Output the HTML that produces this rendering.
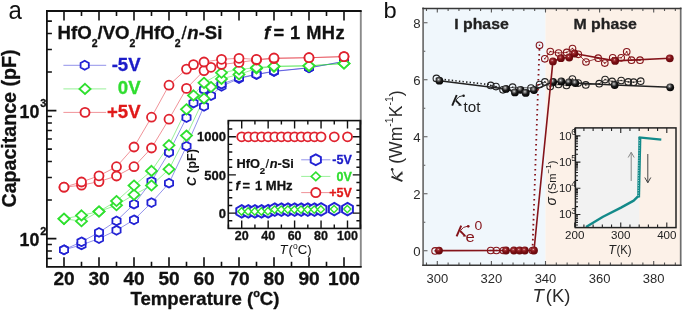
<!DOCTYPE html>
<html><head><meta charset="utf-8"><title>figure</title>
<style>html,body{margin:0;padding:0;background:#fff;}body{width:685px;height:311px;position:relative;overflow:hidden;font-family:"Liberation Sans", sans-serif;}</style>
</head><body>
<div style="position:absolute;left:0;top:0;width:685px;height:311px;will-change:transform">
<svg width="685" height="311" viewBox="0 0 685 311" style="position:absolute;left:0;top:0">
<rect x="0" y="0" width="685" height="311" fill="#fff"/>
<polyline points="64.00,249.80 81.50,244.90 99.00,238.60 116.50,230.30 134.00,219.80 151.50,202.60 169.00,183.20 186.50,146.20 204.00,106.30 211.00,95.70 221.50,86.30 239.00,78.50 256.50,74.50 274.00,71.50 309.00,67.80 344.00,61.50" fill="none" stroke="#2222d4" stroke-width="0.9" stroke-opacity="0.55"/>
<polyline points="64.00,249.80 81.50,241.80 99.00,232.40 116.50,220.90 134.00,204.20 151.50,181.30 169.00,152.50 186.50,117.60 193.50,103.00 204.00,89.50 221.50,84.20 239.00,77.80 256.50,74.30 274.00,71.20 309.00,67.80 344.00,61.50" fill="none" stroke="#2222d4" stroke-width="0.9" stroke-opacity="0.55"/>
<polyline points="64.00,218.80 81.50,221.20 99.00,211.50 116.50,205.20 134.00,194.70 151.50,185.50 169.00,169.20 186.50,135.60 204.00,98.40 211.00,87.00 221.50,78.90 239.00,74.40 256.50,68.50 274.00,66.60 309.00,65.80 344.00,63.50" fill="none" stroke="#2fe02f" stroke-width="0.9" stroke-opacity="0.55"/>
<polyline points="64.00,218.80 81.50,215.40 99.00,211.50 116.50,201.00 134.00,185.50 151.50,170.90 169.00,145.20 186.50,109.30 193.50,95.40 204.00,82.80 221.50,72.70 239.00,69.50 256.50,67.60 274.00,66.20 309.00,65.80 344.00,63.50" fill="none" stroke="#2fe02f" stroke-width="0.9" stroke-opacity="0.55"/>
<polyline points="64.00,187.20 81.50,185.20 99.00,181.60 116.50,176.00 134.00,166.70 151.50,148.00 169.00,119.20 186.50,88.40 204.00,70.60 211.00,67.30 221.50,64.50 239.00,62.40 256.50,60.00 274.00,58.60 309.00,57.70 344.00,56.60" fill="none" stroke="#e0222e" stroke-width="0.9" stroke-opacity="0.55"/>
<polyline points="64.00,187.20 81.50,182.00 99.00,175.80 116.50,166.70 134.00,147.00 151.50,117.20 169.00,85.20 186.50,69.10 193.50,64.60 204.00,62.00 221.50,59.30 239.00,58.30 256.50,59.40 274.00,58.00 309.00,57.70 344.00,56.60" fill="none" stroke="#e0222e" stroke-width="0.9" stroke-opacity="0.55"/>
<path d="M64.00 245.40 L68.10 247.60 L68.10 252.00 L64.00 254.20 L59.90 252.00 L59.90 247.60 Z" fill="#fff" stroke="#2222d4" stroke-width="1.80"/>
<path d="M81.50 240.50 L85.60 242.70 L85.60 247.10 L81.50 249.30 L77.40 247.10 L77.40 242.70 Z" fill="#fff" stroke="#2222d4" stroke-width="1.80"/>
<path d="M99.00 234.20 L103.10 236.40 L103.10 240.80 L99.00 243.00 L94.90 240.80 L94.90 236.40 Z" fill="#fff" stroke="#2222d4" stroke-width="1.80"/>
<path d="M116.50 225.90 L120.60 228.10 L120.60 232.50 L116.50 234.70 L112.40 232.50 L112.40 228.10 Z" fill="#fff" stroke="#2222d4" stroke-width="1.80"/>
<path d="M134.00 215.40 L138.10 217.60 L138.10 222.00 L134.00 224.20 L129.90 222.00 L129.90 217.60 Z" fill="#fff" stroke="#2222d4" stroke-width="1.80"/>
<path d="M151.50 198.20 L155.60 200.40 L155.60 204.80 L151.50 207.00 L147.40 204.80 L147.40 200.40 Z" fill="#fff" stroke="#2222d4" stroke-width="1.80"/>
<path d="M169.00 178.80 L173.10 181.00 L173.10 185.40 L169.00 187.60 L164.90 185.40 L164.90 181.00 Z" fill="#fff" stroke="#2222d4" stroke-width="1.80"/>
<path d="M186.50 141.80 L190.60 144.00 L190.60 148.40 L186.50 150.60 L182.40 148.40 L182.40 144.00 Z" fill="#fff" stroke="#2222d4" stroke-width="1.80"/>
<path d="M204.00 101.90 L208.10 104.10 L208.10 108.50 L204.00 110.70 L199.90 108.50 L199.90 104.10 Z" fill="#fff" stroke="#2222d4" stroke-width="1.80"/>
<path d="M211.00 91.30 L215.10 93.50 L215.10 97.90 L211.00 100.10 L206.90 97.90 L206.90 93.50 Z" fill="#fff" stroke="#2222d4" stroke-width="1.80"/>
<path d="M221.50 81.90 L225.60 84.10 L225.60 88.50 L221.50 90.70 L217.40 88.50 L217.40 84.10 Z" fill="#fff" stroke="#2222d4" stroke-width="1.80"/>
<path d="M239.00 74.10 L243.10 76.30 L243.10 80.70 L239.00 82.90 L234.90 80.70 L234.90 76.30 Z" fill="#fff" stroke="#2222d4" stroke-width="1.80"/>
<path d="M256.50 70.10 L260.60 72.30 L260.60 76.70 L256.50 78.90 L252.40 76.70 L252.40 72.30 Z" fill="#fff" stroke="#2222d4" stroke-width="1.80"/>
<path d="M274.00 67.10 L278.10 69.30 L278.10 73.70 L274.00 75.90 L269.90 73.70 L269.90 69.30 Z" fill="#fff" stroke="#2222d4" stroke-width="1.80"/>
<path d="M309.00 63.40 L313.10 65.60 L313.10 70.00 L309.00 72.20 L304.90 70.00 L304.90 65.60 Z" fill="#fff" stroke="#2222d4" stroke-width="1.80"/>
<path d="M344.00 57.10 L348.10 59.30 L348.10 63.70 L344.00 65.90 L339.90 63.70 L339.90 59.30 Z" fill="#fff" stroke="#2222d4" stroke-width="1.80"/>
<path d="M64.00 245.40 L68.10 247.60 L68.10 252.00 L64.00 254.20 L59.90 252.00 L59.90 247.60 Z" fill="#fff" stroke="#2222d4" stroke-width="1.80"/>
<path d="M81.50 237.40 L85.60 239.60 L85.60 244.00 L81.50 246.20 L77.40 244.00 L77.40 239.60 Z" fill="#fff" stroke="#2222d4" stroke-width="1.80"/>
<path d="M99.00 228.00 L103.10 230.20 L103.10 234.60 L99.00 236.80 L94.90 234.60 L94.90 230.20 Z" fill="#fff" stroke="#2222d4" stroke-width="1.80"/>
<path d="M116.50 216.50 L120.60 218.70 L120.60 223.10 L116.50 225.30 L112.40 223.10 L112.40 218.70 Z" fill="#fff" stroke="#2222d4" stroke-width="1.80"/>
<path d="M134.00 199.80 L138.10 202.00 L138.10 206.40 L134.00 208.60 L129.90 206.40 L129.90 202.00 Z" fill="#fff" stroke="#2222d4" stroke-width="1.80"/>
<path d="M151.50 176.90 L155.60 179.10 L155.60 183.50 L151.50 185.70 L147.40 183.50 L147.40 179.10 Z" fill="#fff" stroke="#2222d4" stroke-width="1.80"/>
<path d="M169.00 148.10 L173.10 150.30 L173.10 154.70 L169.00 156.90 L164.90 154.70 L164.90 150.30 Z" fill="#fff" stroke="#2222d4" stroke-width="1.80"/>
<path d="M186.50 113.20 L190.60 115.40 L190.60 119.80 L186.50 122.00 L182.40 119.80 L182.40 115.40 Z" fill="#fff" stroke="#2222d4" stroke-width="1.80"/>
<path d="M193.50 98.60 L197.60 100.80 L197.60 105.20 L193.50 107.40 L189.40 105.20 L189.40 100.80 Z" fill="#fff" stroke="#2222d4" stroke-width="1.80"/>
<path d="M204.00 85.10 L208.10 87.30 L208.10 91.70 L204.00 93.90 L199.90 91.70 L199.90 87.30 Z" fill="#fff" stroke="#2222d4" stroke-width="1.80"/>
<path d="M221.50 79.80 L225.60 82.00 L225.60 86.40 L221.50 88.60 L217.40 86.40 L217.40 82.00 Z" fill="#fff" stroke="#2222d4" stroke-width="1.80"/>
<path d="M239.00 73.40 L243.10 75.60 L243.10 80.00 L239.00 82.20 L234.90 80.00 L234.90 75.60 Z" fill="#fff" stroke="#2222d4" stroke-width="1.80"/>
<path d="M256.50 69.90 L260.60 72.10 L260.60 76.50 L256.50 78.70 L252.40 76.50 L252.40 72.10 Z" fill="#fff" stroke="#2222d4" stroke-width="1.80"/>
<path d="M274.00 66.80 L278.10 69.00 L278.10 73.40 L274.00 75.60 L269.90 73.40 L269.90 69.00 Z" fill="#fff" stroke="#2222d4" stroke-width="1.80"/>
<path d="M309.00 63.40 L313.10 65.60 L313.10 70.00 L309.00 72.20 L304.90 70.00 L304.90 65.60 Z" fill="#fff" stroke="#2222d4" stroke-width="1.80"/>
<path d="M344.00 57.10 L348.10 59.30 L348.10 63.70 L344.00 65.90 L339.90 63.70 L339.90 59.30 Z" fill="#fff" stroke="#2222d4" stroke-width="1.80"/>
<path d="M64.00 213.70 L69.50 218.80 L64.00 223.90 L58.50 218.80 Z" fill="#fff" stroke="#2fe02f" stroke-width="1.80"/>
<path d="M81.50 216.10 L87.00 221.20 L81.50 226.30 L76.00 221.20 Z" fill="#fff" stroke="#2fe02f" stroke-width="1.80"/>
<path d="M99.00 206.40 L104.50 211.50 L99.00 216.60 L93.50 211.50 Z" fill="#fff" stroke="#2fe02f" stroke-width="1.80"/>
<path d="M116.50 200.10 L122.00 205.20 L116.50 210.30 L111.00 205.20 Z" fill="#fff" stroke="#2fe02f" stroke-width="1.80"/>
<path d="M134.00 189.60 L139.50 194.70 L134.00 199.80 L128.50 194.70 Z" fill="#fff" stroke="#2fe02f" stroke-width="1.80"/>
<path d="M151.50 180.40 L157.00 185.50 L151.50 190.60 L146.00 185.50 Z" fill="#fff" stroke="#2fe02f" stroke-width="1.80"/>
<path d="M169.00 164.10 L174.50 169.20 L169.00 174.30 L163.50 169.20 Z" fill="#fff" stroke="#2fe02f" stroke-width="1.80"/>
<path d="M186.50 130.50 L192.00 135.60 L186.50 140.70 L181.00 135.60 Z" fill="#fff" stroke="#2fe02f" stroke-width="1.80"/>
<path d="M204.00 93.30 L209.50 98.40 L204.00 103.50 L198.50 98.40 Z" fill="#fff" stroke="#2fe02f" stroke-width="1.80"/>
<path d="M211.00 81.90 L216.50 87.00 L211.00 92.10 L205.50 87.00 Z" fill="#fff" stroke="#2fe02f" stroke-width="1.80"/>
<path d="M221.50 73.80 L227.00 78.90 L221.50 84.00 L216.00 78.90 Z" fill="#fff" stroke="#2fe02f" stroke-width="1.80"/>
<path d="M239.00 69.30 L244.50 74.40 L239.00 79.50 L233.50 74.40 Z" fill="#fff" stroke="#2fe02f" stroke-width="1.80"/>
<path d="M256.50 63.40 L262.00 68.50 L256.50 73.60 L251.00 68.50 Z" fill="#fff" stroke="#2fe02f" stroke-width="1.80"/>
<path d="M274.00 61.50 L279.50 66.60 L274.00 71.70 L268.50 66.60 Z" fill="#fff" stroke="#2fe02f" stroke-width="1.80"/>
<path d="M309.00 60.70 L314.50 65.80 L309.00 70.90 L303.50 65.80 Z" fill="#fff" stroke="#2fe02f" stroke-width="1.80"/>
<path d="M344.00 58.40 L349.50 63.50 L344.00 68.60 L338.50 63.50 Z" fill="#fff" stroke="#2fe02f" stroke-width="1.80"/>
<path d="M64.00 213.70 L69.50 218.80 L64.00 223.90 L58.50 218.80 Z" fill="#fff" stroke="#2fe02f" stroke-width="1.80"/>
<path d="M81.50 210.30 L87.00 215.40 L81.50 220.50 L76.00 215.40 Z" fill="#fff" stroke="#2fe02f" stroke-width="1.80"/>
<path d="M99.00 206.40 L104.50 211.50 L99.00 216.60 L93.50 211.50 Z" fill="#fff" stroke="#2fe02f" stroke-width="1.80"/>
<path d="M116.50 195.90 L122.00 201.00 L116.50 206.10 L111.00 201.00 Z" fill="#fff" stroke="#2fe02f" stroke-width="1.80"/>
<path d="M134.00 180.40 L139.50 185.50 L134.00 190.60 L128.50 185.50 Z" fill="#fff" stroke="#2fe02f" stroke-width="1.80"/>
<path d="M151.50 165.80 L157.00 170.90 L151.50 176.00 L146.00 170.90 Z" fill="#fff" stroke="#2fe02f" stroke-width="1.80"/>
<path d="M169.00 140.10 L174.50 145.20 L169.00 150.30 L163.50 145.20 Z" fill="#fff" stroke="#2fe02f" stroke-width="1.80"/>
<path d="M186.50 104.20 L192.00 109.30 L186.50 114.40 L181.00 109.30 Z" fill="#fff" stroke="#2fe02f" stroke-width="1.80"/>
<path d="M193.50 90.30 L199.00 95.40 L193.50 100.50 L188.00 95.40 Z" fill="#fff" stroke="#2fe02f" stroke-width="1.80"/>
<path d="M204.00 77.70 L209.50 82.80 L204.00 87.90 L198.50 82.80 Z" fill="#fff" stroke="#2fe02f" stroke-width="1.80"/>
<path d="M221.50 67.60 L227.00 72.70 L221.50 77.80 L216.00 72.70 Z" fill="#fff" stroke="#2fe02f" stroke-width="1.80"/>
<path d="M239.00 64.40 L244.50 69.50 L239.00 74.60 L233.50 69.50 Z" fill="#fff" stroke="#2fe02f" stroke-width="1.80"/>
<path d="M256.50 62.50 L262.00 67.60 L256.50 72.70 L251.00 67.60 Z" fill="#fff" stroke="#2fe02f" stroke-width="1.80"/>
<path d="M274.00 61.10 L279.50 66.20 L274.00 71.30 L268.50 66.20 Z" fill="#fff" stroke="#2fe02f" stroke-width="1.80"/>
<path d="M309.00 60.70 L314.50 65.80 L309.00 70.90 L303.50 65.80 Z" fill="#fff" stroke="#2fe02f" stroke-width="1.80"/>
<path d="M344.00 58.40 L349.50 63.50 L344.00 68.60 L338.50 63.50 Z" fill="#fff" stroke="#2fe02f" stroke-width="1.80"/>
<circle cx="64.00" cy="187.20" r="4.50" fill="#fff" stroke="#e0222e" stroke-width="1.80"/>
<circle cx="81.50" cy="185.20" r="4.50" fill="#fff" stroke="#e0222e" stroke-width="1.80"/>
<circle cx="99.00" cy="181.60" r="4.50" fill="#fff" stroke="#e0222e" stroke-width="1.80"/>
<circle cx="116.50" cy="176.00" r="4.50" fill="#fff" stroke="#e0222e" stroke-width="1.80"/>
<circle cx="134.00" cy="166.70" r="4.50" fill="#fff" stroke="#e0222e" stroke-width="1.80"/>
<circle cx="151.50" cy="148.00" r="4.50" fill="#fff" stroke="#e0222e" stroke-width="1.80"/>
<circle cx="169.00" cy="119.20" r="4.50" fill="#fff" stroke="#e0222e" stroke-width="1.80"/>
<circle cx="186.50" cy="88.40" r="4.50" fill="#fff" stroke="#e0222e" stroke-width="1.80"/>
<circle cx="204.00" cy="70.60" r="4.50" fill="#fff" stroke="#e0222e" stroke-width="1.80"/>
<circle cx="211.00" cy="67.30" r="4.50" fill="#fff" stroke="#e0222e" stroke-width="1.80"/>
<circle cx="221.50" cy="64.50" r="4.50" fill="#fff" stroke="#e0222e" stroke-width="1.80"/>
<circle cx="239.00" cy="62.40" r="4.50" fill="#fff" stroke="#e0222e" stroke-width="1.80"/>
<circle cx="256.50" cy="60.00" r="4.50" fill="#fff" stroke="#e0222e" stroke-width="1.80"/>
<circle cx="274.00" cy="58.60" r="4.50" fill="#fff" stroke="#e0222e" stroke-width="1.80"/>
<circle cx="309.00" cy="57.70" r="4.50" fill="#fff" stroke="#e0222e" stroke-width="1.80"/>
<circle cx="344.00" cy="56.60" r="4.50" fill="#fff" stroke="#e0222e" stroke-width="1.80"/>
<circle cx="64.00" cy="187.20" r="4.50" fill="#fff" stroke="#e0222e" stroke-width="1.80"/>
<circle cx="81.50" cy="182.00" r="4.50" fill="#fff" stroke="#e0222e" stroke-width="1.80"/>
<circle cx="99.00" cy="175.80" r="4.50" fill="#fff" stroke="#e0222e" stroke-width="1.80"/>
<circle cx="116.50" cy="166.70" r="4.50" fill="#fff" stroke="#e0222e" stroke-width="1.80"/>
<circle cx="134.00" cy="147.00" r="4.50" fill="#fff" stroke="#e0222e" stroke-width="1.80"/>
<circle cx="151.50" cy="117.20" r="4.50" fill="#fff" stroke="#e0222e" stroke-width="1.80"/>
<circle cx="169.00" cy="85.20" r="4.50" fill="#fff" stroke="#e0222e" stroke-width="1.80"/>
<circle cx="186.50" cy="69.10" r="4.50" fill="#fff" stroke="#e0222e" stroke-width="1.80"/>
<circle cx="193.50" cy="64.60" r="4.50" fill="#fff" stroke="#e0222e" stroke-width="1.80"/>
<circle cx="204.00" cy="62.00" r="4.50" fill="#fff" stroke="#e0222e" stroke-width="1.80"/>
<circle cx="221.50" cy="59.30" r="4.50" fill="#fff" stroke="#e0222e" stroke-width="1.80"/>
<circle cx="239.00" cy="58.30" r="4.50" fill="#fff" stroke="#e0222e" stroke-width="1.80"/>
<circle cx="256.50" cy="59.40" r="4.50" fill="#fff" stroke="#e0222e" stroke-width="1.80"/>
<circle cx="274.00" cy="58.00" r="4.50" fill="#fff" stroke="#e0222e" stroke-width="1.80"/>
<circle cx="309.00" cy="57.70" r="4.50" fill="#fff" stroke="#e0222e" stroke-width="1.80"/>
<circle cx="344.00" cy="56.60" r="4.50" fill="#fff" stroke="#e0222e" stroke-width="1.80"/>
<line x1="63.4" y1="65.3" x2="106.2" y2="65.3" stroke="#2222d4" stroke-width="0.9" stroke-opacity="0.55"/>
<path d="M84.70 60.80 L88.80 63.05 L88.80 67.55 L84.70 69.80 L80.60 67.55 L80.60 63.05 Z" fill="#fff" stroke="#2222d4" stroke-width="1.8"/>
<text x="140.60" y="70.80" font-family='"Liberation Sans", sans-serif' font-size="18.60" fill="#1c1cc8" font-weight="bold" stroke="#1c1cc8" stroke-width="0.30" stroke-linejoin="round" text-anchor="end">-5V</text>
<line x1="63.4" y1="88.9" x2="106.2" y2="88.9" stroke="#2fe02f" stroke-width="0.9" stroke-opacity="0.55"/>
<path d="M85.00 83.90 L90.50 88.90 L85.00 93.90 L79.50 88.90 Z" fill="#fff" stroke="#2fe02f" stroke-width="1.9"/>
<text x="140.60" y="94.40" font-family='"Liberation Sans", sans-serif' font-size="18.60" fill="#30dd30" font-weight="bold" stroke="#30dd30" stroke-width="0.30" stroke-linejoin="round" text-anchor="end">0V</text>
<line x1="63.4" y1="112.4" x2="106.2" y2="112.4" stroke="#e0222e" stroke-width="0.9" stroke-opacity="0.55"/>
<circle cx="85.0" cy="112.4" r="4.5" fill="#fff" stroke="#e0222e" stroke-width="1.9"/>
<text x="140.60" y="117.90" font-family='"Liberation Sans", sans-serif' font-size="18.60" fill="#e01a1a" font-weight="bold" stroke="#e01a1a" stroke-width="0.30" stroke-linejoin="round" text-anchor="end">+5V</text>
<text x="57.6" y="39.0" font-family='"Liberation Sans", sans-serif' font-weight="bold" font-size="18.6" fill="#111" stroke="#111" stroke-width="0.3" stroke-linejoin="round">HfO<tspan font-size="10.5" dy="7.6">2</tspan><tspan dy="-7.6">/VO</tspan><tspan font-size="10.5" dy="7.6">2</tspan><tspan dy="-7.6">/HfO</tspan><tspan font-size="10.5" dy="7.6">2</tspan><tspan dy="-7.6" font-weight="normal" dx="0.9">/</tspan><tspan font-style="italic" dx="0.7">n</tspan>-Si</text>
<text x="264.00" y="38.60" font-family='"Liberation Sans", sans-serif' font-size="18.30" fill="#111" font-weight="bold" stroke="#111" stroke-width="0.30" stroke-linejoin="round" font-style="italic">f</text>
<text x="273.60" y="38.60" font-family='"Liberation Sans", sans-serif' font-size="18.30" fill="#111" font-weight="bold" stroke="#111" stroke-width="0.30" stroke-linejoin="round">=</text>
<text x="290.00" y="38.60" font-family='"Liberation Sans", sans-serif' font-size="18.30" fill="#111" font-weight="bold" stroke="#111" stroke-width="0.30" stroke-linejoin="round" textLength="54.6" lengthAdjust="spacing">1 MHz</text>
<rect x="228.3" y="120.6" width="132.1" height="107.8" fill="#fff"/>
<path d="M241.70 205.10 L247.10 208.25 L247.10 214.55 L241.70 217.70 L236.30 214.55 L236.30 208.25 Z" fill="#fff" stroke="#2222d4" stroke-width="2.0"/>
<path d="M248.31 205.10 L253.71 208.25 L253.71 214.55 L248.31 217.70 L242.91 214.55 L242.91 208.25 Z" fill="#fff" stroke="#2222d4" stroke-width="2.0"/>
<path d="M254.92 205.10 L260.32 208.25 L260.32 214.55 L254.92 217.70 L249.52 214.55 L249.52 208.25 Z" fill="#fff" stroke="#2222d4" stroke-width="2.0"/>
<path d="M261.54 205.10 L266.94 208.25 L266.94 214.55 L261.54 217.70 L256.14 214.55 L256.14 208.25 Z" fill="#fff" stroke="#2222d4" stroke-width="2.0"/>
<path d="M268.15 204.90 L273.55 208.05 L273.55 214.35 L268.15 217.50 L262.75 214.35 L262.75 208.05 Z" fill="#fff" stroke="#2222d4" stroke-width="2.0"/>
<path d="M274.76 203.30 L280.16 206.45 L280.16 212.75 L274.76 215.90 L269.36 212.75 L269.36 206.45 Z" fill="#fff" stroke="#2222d4" stroke-width="2.0"/>
<path d="M281.38 203.30 L286.77 206.45 L286.77 212.75 L281.38 215.90 L275.98 212.75 L275.98 206.45 Z" fill="#fff" stroke="#2222d4" stroke-width="2.0"/>
<path d="M287.99 203.30 L293.39 206.45 L293.39 212.75 L287.99 215.90 L282.59 212.75 L282.59 206.45 Z" fill="#fff" stroke="#2222d4" stroke-width="2.0"/>
<path d="M294.60 203.30 L300.00 206.45 L300.00 212.75 L294.60 215.90 L289.20 212.75 L289.20 206.45 Z" fill="#fff" stroke="#2222d4" stroke-width="2.0"/>
<path d="M301.21 203.30 L306.61 206.45 L306.61 212.75 L301.21 215.90 L295.81 212.75 L295.81 206.45 Z" fill="#fff" stroke="#2222d4" stroke-width="2.0"/>
<path d="M307.82 203.30 L313.22 206.45 L313.22 212.75 L307.82 215.90 L302.43 212.75 L302.43 206.45 Z" fill="#fff" stroke="#2222d4" stroke-width="2.0"/>
<path d="M314.44 203.30 L319.84 206.45 L319.84 212.75 L314.44 215.90 L309.04 212.75 L309.04 206.45 Z" fill="#fff" stroke="#2222d4" stroke-width="2.0"/>
<path d="M321.05 203.10 L326.45 206.25 L326.45 212.55 L321.05 215.70 L315.65 212.55 L315.65 206.25 Z" fill="#fff" stroke="#2222d4" stroke-width="2.0"/>
<path d="M334.27 202.80 L339.67 205.95 L339.67 212.25 L334.27 215.40 L328.88 212.25 L328.88 205.95 Z" fill="#fff" stroke="#2222d4" stroke-width="2.0"/>
<path d="M347.50 202.80 L352.90 205.95 L352.90 212.25 L347.50 215.40 L342.10 212.25 L342.10 205.95 Z" fill="#fff" stroke="#2222d4" stroke-width="2.0"/>
<path d="M241.50 207.70 L245.10 211.40 L241.50 215.10 L237.90 211.40 Z" fill="#fff" stroke="#2fe02f" stroke-width="1.4"/>
<path d="M248.11 207.70 L251.71 211.40 L248.11 215.10 L244.51 211.40 Z" fill="#fff" stroke="#2fe02f" stroke-width="1.4"/>
<path d="M254.72 207.70 L258.32 211.40 L254.72 215.10 L251.12 211.40 Z" fill="#fff" stroke="#2fe02f" stroke-width="1.4"/>
<path d="M261.34 207.70 L264.94 211.40 L261.34 215.10 L257.74 211.40 Z" fill="#fff" stroke="#2fe02f" stroke-width="1.4"/>
<path d="M267.95 207.50 L271.55 211.20 L267.95 214.90 L264.35 211.20 Z" fill="#fff" stroke="#2fe02f" stroke-width="1.4"/>
<path d="M274.56 205.90 L278.16 209.60 L274.56 213.30 L270.96 209.60 Z" fill="#fff" stroke="#2fe02f" stroke-width="1.4"/>
<path d="M281.18 205.90 L284.78 209.60 L281.18 213.30 L277.57 209.60 Z" fill="#fff" stroke="#2fe02f" stroke-width="1.4"/>
<path d="M287.79 205.90 L291.39 209.60 L287.79 213.30 L284.19 209.60 Z" fill="#fff" stroke="#2fe02f" stroke-width="1.4"/>
<path d="M294.40 205.90 L298.00 209.60 L294.40 213.30 L290.80 209.60 Z" fill="#fff" stroke="#2fe02f" stroke-width="1.4"/>
<path d="M301.01 205.90 L304.61 209.60 L301.01 213.30 L297.41 209.60 Z" fill="#fff" stroke="#2fe02f" stroke-width="1.4"/>
<path d="M307.62 205.90 L311.23 209.60 L307.62 213.30 L304.02 209.60 Z" fill="#fff" stroke="#2fe02f" stroke-width="1.4"/>
<path d="M314.24 205.90 L317.84 209.60 L314.24 213.30 L310.64 209.60 Z" fill="#fff" stroke="#2fe02f" stroke-width="1.4"/>
<path d="M320.85 205.70 L324.45 209.40 L320.85 213.10 L317.25 209.40 Z" fill="#fff" stroke="#2fe02f" stroke-width="1.4"/>
<path d="M334.07 205.40 L337.68 209.10 L334.07 212.80 L330.47 209.10 Z" fill="#fff" stroke="#2fe02f" stroke-width="1.4"/>
<path d="M347.30 205.40 L350.90 209.10 L347.30 212.80 L343.70 209.10 Z" fill="#fff" stroke="#2fe02f" stroke-width="1.4"/>
<circle cx="241.70" cy="136.8" r="4.5" fill="#fff" stroke="#e0222e" stroke-width="1.8"/>
<circle cx="248.31" cy="136.8" r="4.5" fill="#fff" stroke="#e0222e" stroke-width="1.8"/>
<circle cx="254.92" cy="136.8" r="4.5" fill="#fff" stroke="#e0222e" stroke-width="1.8"/>
<circle cx="261.54" cy="136.8" r="4.5" fill="#fff" stroke="#e0222e" stroke-width="1.8"/>
<circle cx="268.15" cy="136.8" r="4.5" fill="#fff" stroke="#e0222e" stroke-width="1.8"/>
<circle cx="274.76" cy="136.8" r="4.5" fill="#fff" stroke="#e0222e" stroke-width="1.8"/>
<circle cx="281.38" cy="136.8" r="4.5" fill="#fff" stroke="#e0222e" stroke-width="1.8"/>
<circle cx="287.99" cy="136.8" r="4.5" fill="#fff" stroke="#e0222e" stroke-width="1.8"/>
<circle cx="294.60" cy="136.8" r="4.5" fill="#fff" stroke="#e0222e" stroke-width="1.8"/>
<circle cx="301.21" cy="136.8" r="4.5" fill="#fff" stroke="#e0222e" stroke-width="1.8"/>
<circle cx="307.82" cy="136.8" r="4.5" fill="#fff" stroke="#e0222e" stroke-width="1.8"/>
<circle cx="314.44" cy="136.8" r="4.5" fill="#fff" stroke="#e0222e" stroke-width="1.8"/>
<circle cx="321.05" cy="136.8" r="4.5" fill="#fff" stroke="#e0222e" stroke-width="1.8"/>
<circle cx="334.27" cy="136.8" r="4.5" fill="#fff" stroke="#e0222e" stroke-width="1.8"/>
<circle cx="347.50" cy="136.8" r="4.5" fill="#fff" stroke="#e0222e" stroke-width="1.8"/>
<line x1="301.2" y1="159.8" x2="330.4" y2="159.8" stroke="#2222d4" stroke-width="0.9" stroke-opacity="0.55"/>
<path d="M315.80 154.40 L320.90 157.10 L320.90 162.50 L315.80 165.20 L310.70 162.50 L310.70 157.10 Z" fill="#fff" stroke="#2222d4" stroke-width="1.9"/>
<text x="351.80" y="164.20" font-family='"Liberation Sans", sans-serif' font-size="12.50" fill="#1c1cc8" font-weight="bold" stroke="#1c1cc8" stroke-width="0.30" stroke-linejoin="round" text-anchor="end">-5V</text>
<line x1="301.2" y1="176.4" x2="330.4" y2="176.4" stroke="#2fe02f" stroke-width="0.9" stroke-opacity="0.55"/>
<path d="M315.80 172.10 L320.40 176.40 L315.80 180.70 L311.20 176.40 Z" fill="#fff" stroke="#2fe02f" stroke-width="1.6"/>
<text x="351.80" y="180.80" font-family='"Liberation Sans", sans-serif' font-size="12.50" fill="#30dd30" font-weight="bold" stroke="#30dd30" stroke-width="0.30" stroke-linejoin="round" text-anchor="end">0V</text>
<line x1="301.2" y1="192.6" x2="330.4" y2="192.6" stroke="#e0222e" stroke-width="0.9" stroke-opacity="0.55"/>
<circle cx="315.8" cy="192.6" r="4.6" fill="#fff" stroke="#e0222e" stroke-width="1.8"/>
<text x="351.80" y="197.00" font-family='"Liberation Sans", sans-serif' font-size="12.50" fill="#e01a1a" font-weight="bold" stroke="#e01a1a" stroke-width="0.30" stroke-linejoin="round" text-anchor="end">+5V</text>
<text x="236.4" y="168.3" font-family='"Liberation Sans", sans-serif' font-weight="bold" font-size="12.8" fill="#111" stroke="#111" stroke-width="0.2" stroke-linejoin="round">HfO<tspan font-size="9.6" dy="5.4">2</tspan><tspan dy="-5.4" font-weight="normal" dx="0.3">/</tspan><tspan font-style="italic" dx="0.6">n</tspan>-Si</text>
<text x="235.40" y="189.60" font-family='"Liberation Sans", sans-serif' font-size="12.80" fill="#111" font-weight="bold" stroke="#111" stroke-width="0.30" stroke-linejoin="round" font-style="italic">f</text>
<text x="242.60" y="189.60" font-family='"Liberation Sans", sans-serif' font-size="12.80" fill="#111" font-weight="bold" stroke="#111" stroke-width="0.30" stroke-linejoin="round">=</text>
<text x="255.00" y="189.60" font-family='"Liberation Sans", sans-serif' font-size="12.80" fill="#111" font-weight="bold" stroke="#111" stroke-width="0.30" stroke-linejoin="round" textLength="37.6" lengthAdjust="spacingAndGlyphs">1 MHz</text>
<path d="M228.3 220.74 h4.0 M360.4 220.74 h-4.0 M228.3 213.10 h7.6 M360.4 213.10 h-7.6 M228.3 205.46 h4.0 M360.4 205.46 h-4.0 M228.3 197.82 h4.0 M360.4 197.82 h-4.0 M228.3 190.18 h4.0 M360.4 190.18 h-4.0 M228.3 182.54 h4.0 M360.4 182.54 h-4.0 M228.3 174.90 h7.6 M360.4 174.90 h-7.6 M228.3 167.26 h4.0 M360.4 167.26 h-4.0 M228.3 159.62 h4.0 M360.4 159.62 h-4.0 M228.3 151.98 h4.0 M360.4 151.98 h-4.0 M228.3 144.34 h4.0 M360.4 144.34 h-4.0 M228.3 136.70 h7.6 M360.4 136.70 h-7.6 M228.3 129.06 h4.0 M360.4 129.06 h-4.0 M228.47 228.4 v-4.0 M228.47 120.6 v4.0 M241.70 228.4 v-7.8 M241.70 120.6 v7.8 M254.92 228.4 v-4.0 M254.92 120.6 v4.0 M268.15 228.4 v-7.8 M268.15 120.6 v7.8 M281.38 228.4 v-4.0 M281.38 120.6 v4.0 M294.60 228.4 v-7.8 M294.60 120.6 v7.8 M307.82 228.4 v-4.0 M307.82 120.6 v4.0 M321.05 228.4 v-7.8 M321.05 120.6 v7.8 M334.27 228.4 v-4.0 M334.27 120.6 v4.0 M347.50 228.4 v-7.8 M347.50 120.6 v7.8 M360.73 228.4 v-4.0 M360.73 120.6 v4.0" stroke="#111" stroke-width="1.4" fill="none"/>
<rect x="228.3" y="120.6" width="132.1" height="107.8" fill="none" stroke="#111" stroke-width="1.6"/>
<text x="226.00" y="217.70" font-family='"Liberation Sans", sans-serif' font-size="13.00" fill="#111" font-weight="bold" stroke="#111" stroke-width="0.30" stroke-linejoin="round" text-anchor="end">0</text>
<text x="226.00" y="179.50" font-family='"Liberation Sans", sans-serif' font-size="13.00" fill="#111" font-weight="bold" stroke="#111" stroke-width="0.30" stroke-linejoin="round" text-anchor="end">500</text>
<text x="226.00" y="141.30" font-family='"Liberation Sans", sans-serif' font-size="13.00" fill="#111" font-weight="bold" stroke="#111" stroke-width="0.30" stroke-linejoin="round" text-anchor="end">1000</text>
<text x="241.70" y="240.20" font-family='"Liberation Sans", sans-serif' font-size="12.50" fill="#111" font-weight="bold" stroke="#111" stroke-width="0.30" stroke-linejoin="round" text-anchor="middle">20</text>
<text x="268.15" y="240.20" font-family='"Liberation Sans", sans-serif' font-size="12.50" fill="#111" font-weight="bold" stroke="#111" stroke-width="0.30" stroke-linejoin="round" text-anchor="middle">40</text>
<text x="294.60" y="240.20" font-family='"Liberation Sans", sans-serif' font-size="12.50" fill="#111" font-weight="bold" stroke="#111" stroke-width="0.30" stroke-linejoin="round" text-anchor="middle">60</text>
<text x="321.05" y="240.20" font-family='"Liberation Sans", sans-serif' font-size="12.50" fill="#111" font-weight="bold" stroke="#111" stroke-width="0.30" stroke-linejoin="round" text-anchor="middle">80</text>
<text x="347.50" y="240.20" font-family='"Liberation Sans", sans-serif' font-size="12.50" fill="#111" font-weight="bold" stroke="#111" stroke-width="0.30" stroke-linejoin="round" text-anchor="middle">100</text>
<text x="279.60" y="254.40" font-family='"Liberation Sans", sans-serif' font-size="13.20" fill="#111" font-style="italic">T</text>
<text x="288.6" y="254.4" font-family='"Liberation Sans", sans-serif' font-size="13.2" fill="#111">(<tspan font-size="8.5" dy="-5.5">o</tspan><tspan dy="5.5">C)</tspan></text>
<text transform="translate(196.4,167.4) rotate(-90)" font-family='"Liberation Sans", sans-serif' font-weight="bold" font-size="12.8" fill="#111" text-anchor="middle"><tspan font-style="italic">C</tspan> (pF)</text>
<path d="M64.00 266.8 v-9.5 M64.00 11.0 v9.5 M81.50 266.8 v-5.0 M81.50 11.0 v5.0 M99.00 266.8 v-9.5 M99.00 11.0 v9.5 M116.50 266.8 v-5.0 M116.50 11.0 v5.0 M134.00 266.8 v-9.5 M134.00 11.0 v9.5 M151.50 266.8 v-5.0 M151.50 11.0 v5.0 M169.00 266.8 v-9.5 M169.00 11.0 v9.5 M186.50 266.8 v-5.0 M186.50 11.0 v5.0 M204.00 266.8 v-9.5 M204.00 11.0 v9.5 M221.50 266.8 v-5.0 M221.50 11.0 v5.0 M239.00 266.8 v-9.5 M239.00 11.0 v9.5 M256.50 266.8 v-5.0 M256.50 11.0 v5.0 M274.00 266.8 v-9.5 M274.00 11.0 v9.5 M291.50 266.8 v-5.0 M291.50 11.0 v5.0 M309.00 266.8 v-9.5 M309.00 11.0 v9.5 M326.50 266.8 v-5.0 M326.50 11.0 v5.0 M344.00 266.8 v-9.5 M344.00 11.0 v9.5 M46.9 258.43 h5.0 M46.9 251.00 h5.0 M46.9 244.46 h5.0 M46.9 238.60 h9.5 M46.9 200.07 h5.0 M46.9 177.53 h5.0 M46.9 161.54 h5.0 M46.9 149.13 h5.0 M46.9 139.00 h5.0 M46.9 130.43 h5.0 M46.9 123.00 h5.0 M46.9 116.46 h5.0 M46.9 110.60 h9.5 M46.9 72.07 h5.0 M46.9 49.53 h5.0 M46.9 33.54 h5.0 M46.9 21.13 h5.0" stroke="#111" stroke-width="1.6" fill="none"/>
<path d="M360.8 11.0 V266.8" stroke="#8a8a8a" stroke-width="1.9" fill="none"/>
<path d="M46.0 11.0 H361.7 M46.0 266.8 H361.7 M46.9 11.0 V266.8" stroke="#111" stroke-width="1.8" fill="none"/>
<path d="M360.4 119.8 V229.2" stroke="#111" stroke-width="1.6" fill="none"/>
<text x="64.00" y="285.00" font-family='"Liberation Sans", sans-serif' font-size="19.10" fill="#111" font-weight="bold" stroke="#111" stroke-width="0.30" stroke-linejoin="round" text-anchor="middle">20</text>
<text x="99.00" y="285.00" font-family='"Liberation Sans", sans-serif' font-size="19.10" fill="#111" font-weight="bold" stroke="#111" stroke-width="0.30" stroke-linejoin="round" text-anchor="middle">30</text>
<text x="134.00" y="285.00" font-family='"Liberation Sans", sans-serif' font-size="19.10" fill="#111" font-weight="bold" stroke="#111" stroke-width="0.30" stroke-linejoin="round" text-anchor="middle">40</text>
<text x="169.00" y="285.00" font-family='"Liberation Sans", sans-serif' font-size="19.10" fill="#111" font-weight="bold" stroke="#111" stroke-width="0.30" stroke-linejoin="round" text-anchor="middle">50</text>
<text x="204.00" y="285.00" font-family='"Liberation Sans", sans-serif' font-size="19.10" fill="#111" font-weight="bold" stroke="#111" stroke-width="0.30" stroke-linejoin="round" text-anchor="middle">60</text>
<text x="239.00" y="285.00" font-family='"Liberation Sans", sans-serif' font-size="19.10" fill="#111" font-weight="bold" stroke="#111" stroke-width="0.30" stroke-linejoin="round" text-anchor="middle">70</text>
<text x="274.00" y="285.00" font-family='"Liberation Sans", sans-serif' font-size="19.10" fill="#111" font-weight="bold" stroke="#111" stroke-width="0.30" stroke-linejoin="round" text-anchor="middle">80</text>
<text x="309.00" y="285.00" font-family='"Liberation Sans", sans-serif' font-size="19.10" fill="#111" font-weight="bold" stroke="#111" stroke-width="0.30" stroke-linejoin="round" text-anchor="middle">90</text>
<text x="344.00" y="285.00" font-family='"Liberation Sans", sans-serif' font-size="19.10" fill="#111" font-weight="bold" stroke="#111" stroke-width="0.30" stroke-linejoin="round" text-anchor="middle">100</text>
<text x="39.40" y="246.00" font-family='"Liberation Sans", sans-serif' font-size="17.80" fill="#111" font-weight="bold" stroke="#111" stroke-width="0.30" stroke-linejoin="round" text-anchor="end">10</text>
<text x="40.20" y="235.30" font-family='"Liberation Sans", sans-serif' font-size="11.00" fill="#111" font-weight="bold" stroke="#111" stroke-width="0.30" stroke-linejoin="round">2</text>
<text x="39.40" y="117.50" font-family='"Liberation Sans", sans-serif' font-size="17.80" fill="#111" font-weight="bold" stroke="#111" stroke-width="0.30" stroke-linejoin="round" text-anchor="end">10</text>
<text x="40.20" y="106.80" font-family='"Liberation Sans", sans-serif' font-size="11.00" fill="#111" font-weight="bold" stroke="#111" stroke-width="0.30" stroke-linejoin="round">3</text>
<text x="205" y="305.0" font-family='"Liberation Sans", sans-serif' font-weight="bold" font-size="18.6" fill="#111" stroke="#111" stroke-width="0.3" stroke-linejoin="round" text-anchor="middle">Temperature (<tspan font-size="11" dy="-8">o</tspan><tspan dy="8">C)</tspan></text>
<text transform="translate(15.80,128.50) rotate(-90)" font-family='"Liberation Sans", sans-serif' font-size="19.60" fill="#111" font-weight="bold" stroke="#111" stroke-width="0.30" stroke-linejoin="round" text-anchor="middle">Capacitance (pF)</text>
<text transform="translate(8.40,18.80) scale(0.930,1)" font-family='"Liberation Sans", sans-serif' font-size="25.80" fill="#111">a</text>
<rect x="423.1" y="8.4" width="122.4" height="256.9" fill="#f0f7fc"/>
<rect x="545.5" y="8.4" width="135.2" height="256.9" fill="#fcf1e8"/>
<defs><radialGradient id="gk" cx="0.4" cy="0.36" r="0.62"><stop offset="0" stop-color="#f0f0f0"/><stop offset="0.18" stop-color="#8a8a8a"/><stop offset="0.55" stop-color="#1c1c1c"/><stop offset="1" stop-color="#050505"/></radialGradient><radialGradient id="gr" cx="0.4" cy="0.36" r="0.62"><stop offset="0" stop-color="#f4dada"/><stop offset="0.18" stop-color="#a8383c"/><stop offset="0.55" stop-color="#7c0f14"/><stop offset="1" stop-color="#66080c"/></radialGradient></defs>
<line x1="441" y1="79.2" x2="490" y2="84.6" stroke="#222" stroke-width="1.6" stroke-dasharray="1.4 2.2"/>
<polyline points="439.4,80.7 505.9,88.9 514.9,92.4 520.5,89.8 525.7,92.9 534.0,90.1 553.1,81.9 561.3,81.4 568.9,82.3 575.3,83.1 614.7,85.0 670.2,87.3" fill="none" stroke="#222" stroke-width="1.5"/>
<polyline points="490.7,85.4 496.0,86.6 503.0,89.8 512.6,87.2 531.0,88.0 539.6,84.5 544.9,81.9 550.2,86.6 558.5,84.5 566.5,85.4 572.4,79.0 578.2,83.1 585.8,84.9 599.2,83.7 605.1,79.6 612.1,81.4 621.2,80.5 628.3,81.9 633.6,82.2 640.7,81.2" fill="none" stroke="#333" stroke-width="0.8"/>
<circle cx="436.4" cy="78.4" r="3.3" fill="none" stroke="#222" stroke-width="1.1"/><circle cx="436.4" cy="78.4" r="0.8" fill="#222"/>
<circle cx="490.7" cy="85.4" r="3.3" fill="none" stroke="#222" stroke-width="1.1"/><circle cx="490.7" cy="85.4" r="0.8" fill="#222"/>
<circle cx="496.0" cy="86.6" r="3.3" fill="none" stroke="#222" stroke-width="1.1"/><circle cx="496.0" cy="86.6" r="0.8" fill="#222"/>
<circle cx="503.0" cy="89.8" r="3.3" fill="none" stroke="#222" stroke-width="1.1"/><circle cx="503.0" cy="89.8" r="0.8" fill="#222"/>
<circle cx="512.6" cy="87.2" r="3.3" fill="none" stroke="#222" stroke-width="1.1"/><circle cx="512.6" cy="87.2" r="0.8" fill="#222"/>
<circle cx="531.0" cy="88.0" r="3.3" fill="none" stroke="#222" stroke-width="1.1"/><circle cx="531.0" cy="88.0" r="0.8" fill="#222"/>
<circle cx="539.6" cy="84.5" r="3.3" fill="none" stroke="#222" stroke-width="1.1"/><circle cx="539.6" cy="84.5" r="0.8" fill="#222"/>
<circle cx="544.9" cy="81.9" r="3.3" fill="none" stroke="#222" stroke-width="1.1"/><circle cx="544.9" cy="81.9" r="0.8" fill="#222"/>
<circle cx="550.2" cy="86.6" r="3.3" fill="none" stroke="#222" stroke-width="1.1"/><circle cx="550.2" cy="86.6" r="0.8" fill="#222"/>
<circle cx="558.5" cy="84.5" r="3.3" fill="none" stroke="#222" stroke-width="1.1"/><circle cx="558.5" cy="84.5" r="0.8" fill="#222"/>
<circle cx="566.5" cy="85.4" r="3.3" fill="none" stroke="#222" stroke-width="1.1"/><circle cx="566.5" cy="85.4" r="0.8" fill="#222"/>
<circle cx="572.4" cy="79.0" r="3.3" fill="none" stroke="#222" stroke-width="1.1"/><circle cx="572.4" cy="79.0" r="0.8" fill="#222"/>
<circle cx="578.2" cy="83.1" r="3.3" fill="none" stroke="#222" stroke-width="1.1"/><circle cx="578.2" cy="83.1" r="0.8" fill="#222"/>
<circle cx="585.8" cy="84.9" r="3.3" fill="none" stroke="#222" stroke-width="1.1"/><circle cx="585.8" cy="84.9" r="0.8" fill="#222"/>
<circle cx="599.2" cy="83.7" r="3.3" fill="none" stroke="#222" stroke-width="1.1"/><circle cx="599.2" cy="83.7" r="0.8" fill="#222"/>
<circle cx="605.1" cy="79.6" r="3.3" fill="none" stroke="#222" stroke-width="1.1"/><circle cx="605.1" cy="79.6" r="0.8" fill="#222"/>
<circle cx="612.1" cy="81.4" r="3.3" fill="none" stroke="#222" stroke-width="1.1"/><circle cx="612.1" cy="81.4" r="0.8" fill="#222"/>
<circle cx="621.2" cy="80.5" r="3.3" fill="none" stroke="#222" stroke-width="1.1"/><circle cx="621.2" cy="80.5" r="0.8" fill="#222"/>
<circle cx="628.3" cy="81.9" r="3.3" fill="none" stroke="#222" stroke-width="1.1"/><circle cx="628.3" cy="81.9" r="0.8" fill="#222"/>
<circle cx="633.6" cy="82.2" r="3.3" fill="none" stroke="#222" stroke-width="1.1"/><circle cx="633.6" cy="82.2" r="0.8" fill="#222"/>
<circle cx="640.7" cy="81.2" r="3.3" fill="none" stroke="#222" stroke-width="1.1"/><circle cx="640.7" cy="81.2" r="0.8" fill="#222"/>
<circle cx="439.4" cy="80.7" r="3.9" fill="url(#gk)"/>
<circle cx="505.9" cy="88.9" r="3.9" fill="url(#gk)"/>
<circle cx="514.9" cy="92.4" r="3.9" fill="url(#gk)"/>
<circle cx="520.5" cy="89.8" r="3.9" fill="url(#gk)"/>
<circle cx="525.7" cy="92.9" r="3.9" fill="url(#gk)"/>
<circle cx="534.0" cy="90.1" r="3.9" fill="url(#gk)"/>
<circle cx="553.1" cy="81.9" r="3.9" fill="url(#gk)"/>
<circle cx="561.3" cy="81.4" r="3.9" fill="url(#gk)"/>
<circle cx="568.9" cy="82.3" r="3.9" fill="url(#gk)"/>
<circle cx="575.3" cy="83.1" r="3.9" fill="url(#gk)"/>
<circle cx="614.7" cy="85.0" r="3.9" fill="url(#gk)"/>
<circle cx="670.2" cy="87.3" r="3.9" fill="url(#gk)"/>
<line x1="539.4" y1="49" x2="532.6" y2="247" stroke="#85141a" stroke-width="1.8" stroke-dasharray="1.6 3.4"/>
<polyline points="439.0,250.6 506.0,250.5 513.9,250.5 519.6,250.5 524.8,250.5 534.0,250.5 552.9,61.4 560.9,58.2 569.2,57.5 574.4,53.5 615.1,60.9 669.8,58.3" fill="none" stroke="#85141a" stroke-width="1.6"/>
<polyline points="544.8,58.8 550.3,51.5 558.6,53.0 566.7,52.4 572.5,48.5 578.3,54.3 586.0,62.0 598.2,58.2 604.8,63.1 612.7,57.8 621.2,57.8 626.7,51.8 631.5,60.2 640.0,60.2" fill="none" stroke="#85141a" stroke-width="0.8"/>
<circle cx="435.1" cy="250.9" r="3.3" fill="none" stroke="#85141a" stroke-width="1.1"/><circle cx="435.1" cy="250.9" r="0.8" fill="#85141a"/>
<circle cx="490.7" cy="250.5" r="3.3" fill="none" stroke="#85141a" stroke-width="1.1"/><circle cx="490.7" cy="250.5" r="0.8" fill="#85141a"/>
<circle cx="496.4" cy="250.5" r="3.3" fill="none" stroke="#85141a" stroke-width="1.1"/><circle cx="496.4" cy="250.5" r="0.8" fill="#85141a"/>
<circle cx="503.4" cy="250.5" r="3.3" fill="none" stroke="#85141a" stroke-width="1.1"/><circle cx="503.4" cy="250.5" r="0.8" fill="#85141a"/>
<circle cx="532.5" cy="250.5" r="3.3" fill="none" stroke="#85141a" stroke-width="1.1"/><circle cx="532.5" cy="250.5" r="0.8" fill="#85141a"/>
<circle cx="539.5" cy="45.3" r="3.3" fill="none" stroke="#85141a" stroke-width="1.1"/><circle cx="539.5" cy="45.3" r="0.8" fill="#85141a"/>
<circle cx="544.8" cy="58.8" r="3.3" fill="none" stroke="#85141a" stroke-width="1.1"/><circle cx="544.8" cy="58.8" r="0.8" fill="#85141a"/>
<circle cx="550.3" cy="51.5" r="3.3" fill="none" stroke="#85141a" stroke-width="1.1"/><circle cx="550.3" cy="51.5" r="0.8" fill="#85141a"/>
<circle cx="558.6" cy="53.0" r="3.3" fill="none" stroke="#85141a" stroke-width="1.1"/><circle cx="558.6" cy="53.0" r="0.8" fill="#85141a"/>
<circle cx="566.7" cy="52.4" r="3.3" fill="none" stroke="#85141a" stroke-width="1.1"/><circle cx="566.7" cy="52.4" r="0.8" fill="#85141a"/>
<circle cx="572.5" cy="48.5" r="3.3" fill="none" stroke="#85141a" stroke-width="1.1"/><circle cx="572.5" cy="48.5" r="0.8" fill="#85141a"/>
<circle cx="578.3" cy="54.3" r="3.3" fill="none" stroke="#85141a" stroke-width="1.1"/><circle cx="578.3" cy="54.3" r="0.8" fill="#85141a"/>
<circle cx="586.0" cy="62.0" r="3.3" fill="none" stroke="#85141a" stroke-width="1.1"/><circle cx="586.0" cy="62.0" r="0.8" fill="#85141a"/>
<circle cx="598.2" cy="58.2" r="3.3" fill="none" stroke="#85141a" stroke-width="1.1"/><circle cx="598.2" cy="58.2" r="0.8" fill="#85141a"/>
<circle cx="604.8" cy="63.1" r="3.3" fill="none" stroke="#85141a" stroke-width="1.1"/><circle cx="604.8" cy="63.1" r="0.8" fill="#85141a"/>
<circle cx="612.7" cy="57.8" r="3.3" fill="none" stroke="#85141a" stroke-width="1.1"/><circle cx="612.7" cy="57.8" r="0.8" fill="#85141a"/>
<circle cx="621.2" cy="57.8" r="3.3" fill="none" stroke="#85141a" stroke-width="1.1"/><circle cx="621.2" cy="57.8" r="0.8" fill="#85141a"/>
<circle cx="626.7" cy="51.8" r="3.3" fill="none" stroke="#85141a" stroke-width="1.1"/><circle cx="626.7" cy="51.8" r="0.8" fill="#85141a"/>
<circle cx="631.5" cy="60.2" r="3.3" fill="none" stroke="#85141a" stroke-width="1.1"/><circle cx="631.5" cy="60.2" r="0.8" fill="#85141a"/>
<circle cx="640.0" cy="60.2" r="3.3" fill="none" stroke="#85141a" stroke-width="1.1"/><circle cx="640.0" cy="60.2" r="0.8" fill="#85141a"/>
<circle cx="439.0" cy="250.6" r="3.9" fill="url(#gr)"/>
<circle cx="506.0" cy="250.5" r="3.9" fill="url(#gr)"/>
<circle cx="513.9" cy="250.5" r="3.9" fill="url(#gr)"/>
<circle cx="519.6" cy="250.5" r="3.9" fill="url(#gr)"/>
<circle cx="524.8" cy="250.5" r="3.9" fill="url(#gr)"/>
<circle cx="534.0" cy="250.5" r="3.9" fill="url(#gr)"/>
<circle cx="552.9" cy="61.4" r="3.9" fill="url(#gr)"/>
<circle cx="560.9" cy="58.2" r="3.9" fill="url(#gr)"/>
<circle cx="569.2" cy="57.5" r="3.9" fill="url(#gr)"/>
<circle cx="574.4" cy="53.5" r="3.9" fill="url(#gr)"/>
<circle cx="615.1" cy="60.9" r="3.9" fill="url(#gr)"/>
<circle cx="669.8" cy="58.3" r="3.9" fill="url(#gr)"/>
<g transform="translate(451.80,105.60)" fill="none" stroke="#1a1a1a" stroke-linecap="butt"><path d="M0.4 0 L4.9 -10.6" stroke-width="1.9"/><path d="M3.9 -5.3 L8.7 -0.5" stroke-width="1.8"/><path d="M6.6 -0.4 H9.9" stroke-width="0.9"/><path d="M4.0 -5.5 Q6.9 -9.9 10.9 -9.9" stroke-width="0.9"/><circle cx="11.8" cy="-9.9" r="1.3" fill="#1a1a1a" stroke="none"/></g>
<text x="463.50" y="111.50" font-family='"Liberation Sans", sans-serif' font-size="15.20" fill="#222">tot</text>
<g transform="translate(456.20,236.40) scale(1.020)" fill="none" stroke="#85141a" stroke-linecap="butt"><path d="M0.4 0 L4.9 -10.6" stroke-width="1.9"/><path d="M3.9 -5.3 L8.7 -0.5" stroke-width="1.8"/><path d="M6.6 -0.4 H9.9" stroke-width="0.9"/><path d="M4.0 -5.5 Q6.9 -9.9 10.9 -9.9" stroke-width="0.9"/><circle cx="11.8" cy="-9.9" r="1.3" fill="#85141a" stroke="none"/></g>
<text transform="translate(465.60,242.40) scale(1.100,1)" font-family='"Liberation Sans", sans-serif' font-size="15.20" fill="#85141a">e</text>
<text transform="translate(474.40,230.30) scale(1.150,1)" font-family='"Liberation Sans", sans-serif' font-size="12.20" fill="#85141a">0</text>
<text transform="translate(481.50,28.50) scale(1.030,1)" font-family='"Liberation Sans", sans-serif' font-size="15.40" fill="#222" font-weight="bold" stroke="#222" stroke-width="0.30" stroke-linejoin="round" text-anchor="middle">I phase</text>
<text transform="translate(605.20,28.70) scale(1.030,1)" font-family='"Liberation Sans", sans-serif' font-size="15.40" fill="#222" font-weight="bold" stroke="#222" stroke-width="0.30" stroke-linejoin="round" text-anchor="middle">M phase</text>
<rect x="575.4" y="127.9" width="64.0" height="99.7" fill="#f2f2f2"/>
<rect x="639.4" y="127.9" width="36.6" height="99.7" fill="#fcf1e8"/>
<path d="M586 227 L603 216.7 L621 207.6 L633.7 200.6 L638.0 196.4" fill="none" stroke="#138a8a" stroke-width="2.4" stroke-linejoin="round"/>
<path d="M638.6 197.5 L639.9 137.0" fill="none" stroke="#138a8a" stroke-width="3.0"/>
<path d="M638.2 196 L639.4 138.5" fill="none" stroke="#d8f0ee" stroke-width="0.8" stroke-dasharray="0.9 1.6"/>
<path d="M638.6 137.4 L661.3 139.6" fill="none" stroke="#138a8a" stroke-width="2.2"/>
<path d="M631.2 181 V152.5 M628.2 157.5 L631.2 152.2 L634.2 157.5" fill="none" stroke="#888" stroke-width="1"/>
<path d="M647.8 154 V182.5 M644.8 177.5 L647.8 182.8 L650.8 177.5" fill="none" stroke="#444" stroke-width="1"/>
<path d="M575.4 224.93 h2.6 M575.4 222.39 h2.6 M575.4 220.31 h2.6 M575.4 218.56 h2.6 M575.4 217.04 h2.6 M575.4 215.70 h2.6 M575.4 214.50 h5.0 M575.4 206.61 h2.6 M575.4 202.00 h2.6 M575.4 198.73 h2.6 M575.4 196.19 h2.6 M575.4 194.11 h2.6 M575.4 192.36 h2.6 M575.4 190.84 h2.6 M575.4 189.50 h2.6 M575.4 188.30 h5.0 M575.4 180.41 h2.6 M575.4 175.80 h2.6 M575.4 172.53 h2.6 M575.4 169.99 h2.6 M575.4 167.91 h2.6 M575.4 166.16 h2.6 M575.4 164.64 h2.6 M575.4 163.30 h2.6 M575.4 162.10 h5.0 M575.4 154.21 h2.6 M575.4 149.60 h2.6 M575.4 146.33 h2.6 M575.4 143.79 h2.6 M575.4 141.71 h2.6 M575.4 139.96 h2.6 M575.4 138.44 h2.6 M575.4 137.10 h2.6 M575.4 135.90 h5.0 M574.70 227.6 v-5.0 M574.70 127.9 v5.0 M583.91 227.6 v-3.0 M583.91 127.9 v3.0 M593.12 227.6 v-3.0 M593.12 127.9 v3.0 M602.33 227.6 v-3.0 M602.33 127.9 v3.0 M611.54 227.6 v-3.0 M611.54 127.9 v3.0 M620.75 227.6 v-5.0 M620.75 127.9 v5.0 M629.96 227.6 v-3.0 M629.96 127.9 v3.0 M639.17 227.6 v-3.0 M639.17 127.9 v3.0 M648.38 227.6 v-3.0 M648.38 127.9 v3.0 M657.59 227.6 v-3.0 M657.59 127.9 v3.0 M666.80 227.6 v-5.0 M666.80 127.9 v5.0" stroke="#222" stroke-width="1.1" fill="none"/>
<rect x="575.4" y="127.9" width="100.6" height="99.7" fill="none" stroke="#222" stroke-width="1.5"/>
<text x="571.60" y="218.30" font-family='"Liberation Sans", sans-serif' font-size="11.40" fill="#222" text-anchor="end">10</text>
<text x="571.20" y="213.60" font-family='"Liberation Sans", sans-serif' font-size="8.60" fill="#222">3</text>
<text x="571.60" y="192.10" font-family='"Liberation Sans", sans-serif' font-size="11.40" fill="#222" text-anchor="end">10</text>
<text x="571.20" y="187.40" font-family='"Liberation Sans", sans-serif' font-size="8.60" fill="#222">4</text>
<text x="571.60" y="165.90" font-family='"Liberation Sans", sans-serif' font-size="11.40" fill="#222" text-anchor="end">10</text>
<text x="571.20" y="161.20" font-family='"Liberation Sans", sans-serif' font-size="8.60" fill="#222">5</text>
<text x="571.60" y="139.70" font-family='"Liberation Sans", sans-serif' font-size="11.40" fill="#222" text-anchor="end">10</text>
<text x="571.20" y="135.00" font-family='"Liberation Sans", sans-serif' font-size="8.60" fill="#222">6</text>
<text x="574.70" y="239.40" font-family='"Liberation Sans", sans-serif' font-size="11.60" fill="#222" text-anchor="middle">200</text>
<text x="620.75" y="239.40" font-family='"Liberation Sans", sans-serif' font-size="11.60" fill="#222" text-anchor="middle">300</text>
<text x="666.80" y="239.40" font-family='"Liberation Sans", sans-serif' font-size="11.60" fill="#222" text-anchor="middle">400</text>
<text x="608.30" y="254.40" font-family='"Liberation Sans", sans-serif' font-size="12.60" fill="#222" font-style="italic">T</text>
<text transform="translate(616.40,254.40) scale(0.950,1)" font-family='"Liberation Sans", sans-serif' font-size="12.00" fill="#222">(K)</text>
<text transform="translate(555.8,183.0) rotate(-90)" font-family='"Liberation Sans", sans-serif' font-size="11.2" fill="#222" text-anchor="middle"><tspan font-style="italic" font-size="14">&#963;</tspan> (Sm<tspan font-size="8" dy="-4.5">&#8722;1</tspan><tspan dy="4.5">)</tspan></text>
<path d="M426.48 265.3 v-2.7 M426.48 8.4 v2.7 M437.30 265.3 v-4.2 M437.30 8.4 v4.2 M448.12 265.3 v-2.7 M448.12 8.4 v2.7 M458.94 265.3 v-2.7 M458.94 8.4 v2.7 M469.76 265.3 v-2.7 M469.76 8.4 v2.7 M480.58 265.3 v-2.7 M480.58 8.4 v2.7 M491.40 265.3 v-4.2 M491.40 8.4 v4.2 M502.22 265.3 v-2.7 M502.22 8.4 v2.7 M513.04 265.3 v-2.7 M513.04 8.4 v2.7 M523.86 265.3 v-2.7 M523.86 8.4 v2.7 M534.68 265.3 v-2.7 M534.68 8.4 v2.7 M545.50 265.3 v-4.2 M545.50 8.4 v4.2 M556.32 265.3 v-2.7 M556.32 8.4 v2.7 M567.14 265.3 v-2.7 M567.14 8.4 v2.7 M577.96 265.3 v-2.7 M577.96 8.4 v2.7 M588.78 265.3 v-2.7 M588.78 8.4 v2.7 M599.60 265.3 v-4.2 M599.60 8.4 v4.2 M610.42 265.3 v-2.7 M610.42 8.4 v2.7 M621.24 265.3 v-2.7 M621.24 8.4 v2.7 M632.06 265.3 v-2.7 M632.06 8.4 v2.7 M642.88 265.3 v-2.7 M642.88 8.4 v2.7 M653.70 265.3 v-4.2 M653.70 8.4 v4.2 M664.52 265.3 v-2.7 M664.52 8.4 v2.7 M675.34 265.3 v-2.7 M675.34 8.4 v2.7 M423.1 250.80 h4.4 M423.1 222.30 h2.2 M423.1 193.80 h4.4 M423.1 165.30 h2.2 M423.1 136.80 h4.4 M423.1 108.30 h2.2 M423.1 79.80 h4.4 M423.1 51.30 h2.2 M423.1 22.80 h4.4" stroke="#555" stroke-width="1.1" fill="none"/>
<path d="M423.1 7.6 V266.1 M680.7 7.6 V266.1" stroke="#6e6e6e" stroke-width="1.7" fill="none"/>
<path d="M422.3 8.4 H681.5 M422.3 265.3 H681.5" stroke="#383838" stroke-width="1.5" fill="none"/>
<text x="420.60" y="255.50" font-family='"Liberation Sans", sans-serif' font-size="13.20" fill="#2a2a2a" text-anchor="end">0</text>
<text x="420.60" y="198.50" font-family='"Liberation Sans", sans-serif' font-size="13.20" fill="#2a2a2a" text-anchor="end">2</text>
<text x="420.60" y="141.50" font-family='"Liberation Sans", sans-serif' font-size="13.20" fill="#2a2a2a" text-anchor="end">4</text>
<text x="420.60" y="84.50" font-family='"Liberation Sans", sans-serif' font-size="13.20" fill="#2a2a2a" text-anchor="end">6</text>
<text x="420.60" y="27.50" font-family='"Liberation Sans", sans-serif' font-size="13.20" fill="#2a2a2a" text-anchor="end">8</text>
<text x="437.30" y="283.00" font-family='"Liberation Sans", sans-serif' font-size="13.00" fill="#2a2a2a" text-anchor="middle">300</text>
<text x="491.40" y="283.00" font-family='"Liberation Sans", sans-serif' font-size="13.00" fill="#2a2a2a" text-anchor="middle">320</text>
<text x="545.50" y="283.00" font-family='"Liberation Sans", sans-serif' font-size="13.00" fill="#2a2a2a" text-anchor="middle">340</text>
<text x="599.60" y="283.00" font-family='"Liberation Sans", sans-serif' font-size="13.00" fill="#2a2a2a" text-anchor="middle">360</text>
<text x="653.70" y="283.00" font-family='"Liberation Sans", sans-serif' font-size="13.00" fill="#2a2a2a" text-anchor="middle">380</text>
<text x="532.60" y="302.40" font-family='"Liberation Sans", sans-serif' font-size="18.60" fill="#2a2a2a" font-style="italic">T</text>
<text x="545.80" y="302.40" font-family='"Liberation Sans", sans-serif' font-size="18.40" fill="#2a2a2a">(K)</text>
<g transform="translate(402.40,181.60) rotate(-90) scale(1.030)" fill="none" stroke="#2a2a2a" stroke-linecap="butt"><path d="M0.4 0 L4.9 -10.6" stroke-width="1.9"/><path d="M3.9 -5.3 L8.7 -0.5" stroke-width="1.8"/><path d="M6.6 -0.4 H9.9" stroke-width="0.9"/><path d="M4.0 -5.5 Q6.9 -9.9 10.9 -9.9" stroke-width="0.9"/><circle cx="11.8" cy="-9.9" r="1.3" fill="#2a2a2a" stroke="none"/></g>
<text transform="translate(401.6,163.8) rotate(-90)" font-family='"Liberation Sans", sans-serif' font-size="17.6" fill="#2a2a2a">(Wm<tspan font-size="10.5" dy="-8.8">-1</tspan><tspan dy="8.8">K</tspan><tspan font-size="10.5" dy="-8.8">-1</tspan><tspan dy="8.8">)</tspan></text>
<text transform="translate(383.40,17.80) scale(1.060,1)" font-family='"Liberation Sans", sans-serif' font-size="22.40" fill="#111">b</text>
</svg>
</div>
</body></html>
